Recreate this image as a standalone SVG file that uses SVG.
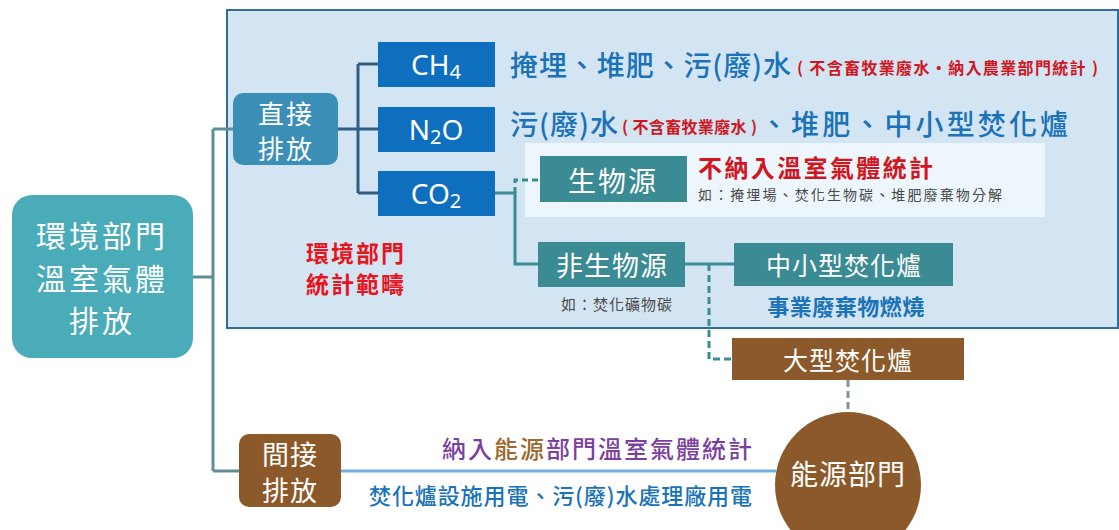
<svg xmlns="http://www.w3.org/2000/svg" width="1119" height="530" viewBox="0 0 1119 530">
<defs>
<style>
text{font-family:"Noto Sans CJK TC","Noto Sans",sans-serif;dominant-baseline:central;}
.w{fill:#ffffff;}
.lat{font-family:"Noto Sans","Open Sans",sans-serif;}
.teal{fill:#3b8b94;}
.brown{fill:#8c5a2a;}
.gas{fill:#0f6fbf;}
.blue{fill:#1a72b8;font-weight:500;}
.red{fill:#d0161f;font-weight:bold;}
.gray{fill:#4a4a4a;}
.c{text-anchor:middle;}
.ln{fill:none;stroke-width:3;}
</style>
</defs>
<rect x="227" y="10" width="891" height="318" fill="#d3e5f3" stroke="#2e6e96" stroke-width="2"/>
<rect x="525" y="143" width="520" height="74" fill="#edf6fc"/>
<g id="connectors">
<path class="ln" d="M193,277 H213 M213,129 V471 M213,129 H233 M213,471 H239" stroke="#5f8c99"/>
<path class="ln" d="M338,129 H378 M358,64 V193 M358,64 H378 M358,193 H378" stroke="#2d5f85"/>
<path class="ln" d="M495,193 H515 V264 H538" stroke="#3b8b94"/>
<path class="ln" d="M515,193 V180 H540" stroke="#3b8b94" stroke-dasharray="6,4"/>
<path class="ln" d="M685,264 H734" stroke="#3b8b94"/>
<path class="ln" d="M709,264 V359 H732" stroke="#3b8b94" stroke-dasharray="7,4"/>
<path class="ln" d="M848,380 V412" stroke="#7a97a3" stroke-dasharray="7,4"/>
<path class="ln" d="M341,471 H776" stroke="#72aee0"/>
</g>
<g id="root">
<rect x="12" y="195" width="181" height="163" rx="20" fill="#4aacb8"/>
<text class="w c" x="102" y="234" font-size="30" letter-spacing="3">環境部門</text>
<text class="w c" x="102" y="277" font-size="30" letter-spacing="3">溫室氣體</text>
<text class="w c" x="102" y="319" font-size="30" letter-spacing="3">排放</text>
</g>
<g id="direct">
<rect x="233" y="93" width="105" height="72" rx="10" fill="#3b8fb7"/>
<text class="w c" x="286" y="112" font-size="26" letter-spacing="2">直接</text>
<text class="w c" x="286" y="147" font-size="26" letter-spacing="2">排放</text>
</g>
<g id="ch4">
<rect class="gas" x="378" y="42" width="117" height="45"/>
<text class="w c lat" x="436" y="64" font-size="28">CH<tspan font-size="20" dy="7">4</tspan></text>
<text class="blue" x="510" y="64" font-size="28" textLength="281" lengthAdjust="spacing">掩埋、堆肥、污(廢)水</text>
<text class="red" x="797" y="67" font-size="16" textLength="301" lengthAdjust="spacing">( 不含畜牧業廢水‧納入農業部門統計 )</text>
</g>
<g id="n2o">
<rect class="gas" x="378" y="107" width="117" height="45"/>
<text class="w c lat" x="436" y="129" font-size="28">N<tspan font-size="20" dy="7">2</tspan><tspan dy="-7">O</tspan></text>
<text class="blue" x="510" y="123" font-size="28" textLength="108" lengthAdjust="spacing">污(廢)水</text>
<text class="red" x="622" y="126" font-size="16" textLength="135" lengthAdjust="spacing">( 不含畜牧業廢水 )</text>
<text class="blue" x="760" y="123" font-size="28" textLength="308" lengthAdjust="spacing">、堆肥、中小型焚化爐</text>
</g>
<g id="co2">
<rect class="gas" x="378" y="171" width="117" height="45"/>
<text class="w c lat" x="436" y="193" font-size="28">CO<tspan font-size="20" dy="7">2</tspan></text>
</g>
<g id="bio">
<rect class="teal" x="540" y="156" width="147" height="46"/>
<text class="w c" x="613" y="180" font-size="28" letter-spacing="2">生物源</text>
<text class="red" x="698" y="166" font-size="24" textLength="235" lengthAdjust="spacing">不納入溫室氣體統計</text>
<text class="gray" x="698" y="194" font-size="14" textLength="304" lengthAdjust="spacing">如：掩埋場、焚化生物碳、堆肥廢棄物分解</text>
</g>
<g id="scope">
<text class="c" x="356" y="252" font-size="23" font-weight="bold" fill="#e8141c" letter-spacing="2">環境部門</text>
<text class="c" x="356" y="283" font-size="23" font-weight="bold" fill="#e8141c" letter-spacing="2">統計範疇</text>
</g>
<g id="nonbio">
<rect class="teal" x="538" y="242" width="147" height="45"/>
<text class="w c" x="612" y="264" font-size="27" letter-spacing="1">非生物源</text>
<text class="gray c" x="617" y="303" font-size="15" letter-spacing="1">如：焚化礦物碳</text>
</g>
<g id="small-incinerator">
<rect class="teal" x="734" y="243" width="219" height="43"/>
<text class="w c" x="844" y="264" font-size="25" letter-spacing="1">中小型焚化爐</text>
<text class="c" x="846" y="305" font-size="22" font-weight="bold" fill="#1a72b8" letter-spacing="0.5">事業廢棄物燃燒</text>
</g>
<g id="large-incinerator">
<rect class="brown" x="732" y="338" width="232" height="42"/>
<text class="w c" x="848" y="359" font-size="25" letter-spacing="1">大型焚化爐</text>
</g>
<g id="indirect">
<rect class="brown" x="239" y="434" width="102" height="73" rx="10"/>
<text class="w c" x="290" y="453" font-size="27" letter-spacing="1">間接</text>
<text class="w c" x="290" y="489" font-size="27" letter-spacing="1">排放</text>
<text x="442" y="447" font-size="24" font-weight="500" fill="#7b3fa0" textLength="310" lengthAdjust="spacing">納入<tspan fill="#9c6a30">能源</tspan>部門溫室氣體統計</text>
<text class="blue" x="369" y="494" font-size="22" textLength="383" lengthAdjust="spacing">焚化爐設施用電、污(廢)水處理廠用電</text>
</g>
<g id="energy">
<circle class="brown" cx="848" cy="485" r="73"/>
<text class="w c" x="848" y="473" font-size="28" letter-spacing="1">能源部門</text>
</g>
</svg>
